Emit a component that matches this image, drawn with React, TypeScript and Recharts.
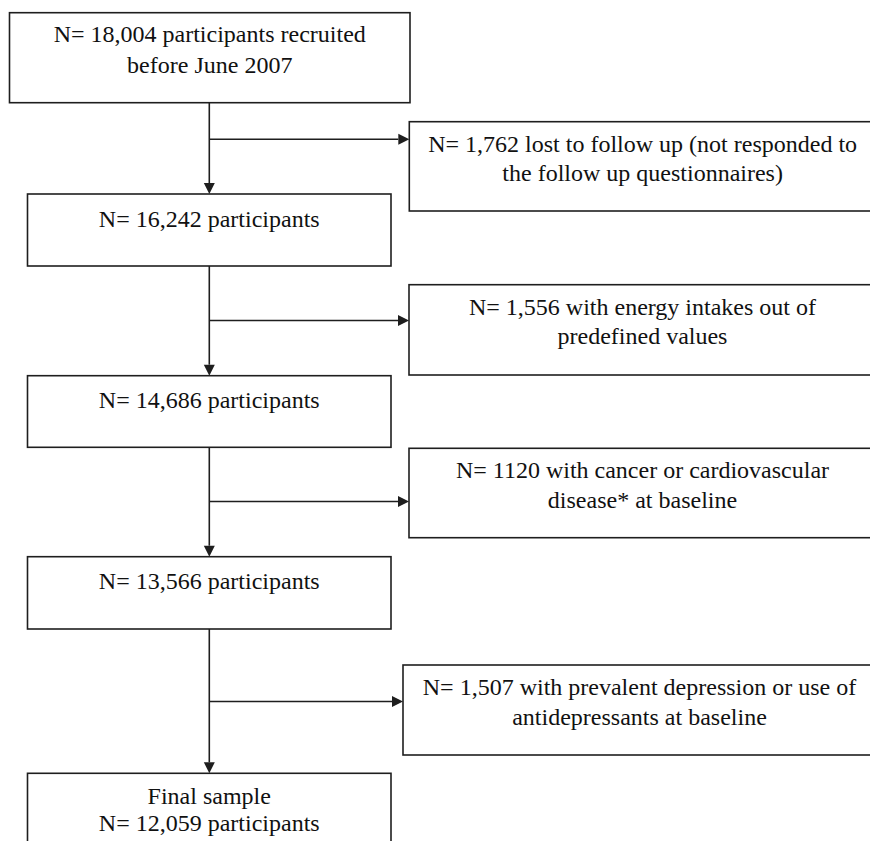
import React from 'react'
import { ComposedChart, XAxis, YAxis, ReferenceArea, ReferenceLine } from 'recharts'

// flow counts, as printed in the figure
const stageCounts = ['18,004', '16,242', '14,686', '13,566', '12,059']
const excludedCounts = ['1,762', '1,556', '1120', '1,507']

// box texts
const stageText: string[][] = [
  [`N= ${stageCounts[0]} participants recruited`, 'before June 2007'],
  [`N= ${stageCounts[1]} participants`],
  [`N= ${stageCounts[2]} participants`],
  [`N= ${stageCounts[3]} participants`],
  ['Final sample', `N= ${stageCounts[4]} participants`],
]
const excludedText: string[][] = [
  [`N= ${excludedCounts[0]} lost to follow up (not responded to`, 'the follow up questionnaires)'],
  [`N= ${excludedCounts[1]} with energy intakes out of`, 'predefined values'],
  [`N= ${excludedCounts[2]} with cancer or cardiovascular`, 'disease* at baseline'],
  [`N= ${excludedCounts[3]} with prevalent depression or use of`, 'antidepressants at baseline'],
]

// layout, in chart units (domain 0..870 x 0..841)
const W = 870
const H = 841
const SPINE_X = 209.3
const MAIN_LEFT = [9.5, 27.5, 27.5, 27.5, 27.5]
const MAIN_RIGHT = [410, 391, 391, 391, 391]
const MAIN_TOP = [12.7, 194, 375.7, 556.7, 773.3]
const MAIN_BOTTOM = [102.7, 266, 447.3, 629, 870]
const MAIN_FIRST = [29, 32.5, 32, 32.3, 31]
const MAIN_GAP = [31, 0, 0, 0, 27]
const SIDE_LEFT = [409.3, 409, 409, 403]
const SIDE_RIGHT = 876
const SIDE_TOP = [121.7, 284.7, 448.3, 665]
const SIDE_BOTTOM = [211, 375, 537.7, 755]
const ARROW_Y = [139.3, 320.5, 501.5, 701.5]

const INK = '#1e1e1e'
const FONT = "'Liberation Serif', 'Times New Roman', Times, serif"

function boxShape(lines: string[], first: number, gap: number) {
  return (p: any) => {
    const cx = p.x + p.width / 2
    return (
      <g>
        <rect x={p.x} y={p.y} width={p.width} height={p.height} fill="#fff" stroke={INK} strokeWidth={1.6} />
        {lines.map((t, i) => (
          <text
            key={i}
            x={cx}
            y={p.y + first + i * gap}
            textAnchor="middle"
            style={{ fontFamily: FONT, fontSize: 24, fill: '#111' }}
          >
            {t}
          </text>
        ))}
      </g>
    )
  }
}

function arrowShape(p: any) {
  const { x1, y1, x2, y2 } = p
  const dx = x2 - x1
  const dy = y2 - y1
  const len = Math.hypot(dx, dy) || 1
  const ux = dx / len
  const uy = dy / len
  const hl = 11
  const hw = 5.5
  const bx = x2 - ux * hl
  const by = y2 - uy * hl
  const pts = `${x2},${y2} ${bx - uy * hw},${by + ux * hw} ${bx + uy * hw},${by - ux * hw}`
  return (
    <g>
      <line x1={x1} y1={y1} x2={bx} y2={by} stroke={INK} strokeWidth={1.6} />
      <polygon points={pts} fill={INK} />
    </g>
  )
}

export default function App() {
  return (
    <div style={{ position: 'absolute', left: 0, top: 0, background: '#fff', fontFamily: FONT }}>
      <ComposedChart width={W} height={H} margin={{ top: 0, right: 0, bottom: 0, left: 0 }}>
        <XAxis type="number" dataKey="x" domain={[0, W]} hide allowDataOverflow />
        <YAxis type="number" dataKey="y" domain={[0, H]} reversed hide allowDataOverflow />

        {/* main spine: box to box arrows */}
        {MAIN_TOP.slice(1).map((top, i) => (
          <ReferenceLine
            key={`v${i}`}
            segment={[
              { x: SPINE_X, y: MAIN_BOTTOM[i] },
              { x: SPINE_X, y: top },
            ]}
            ifOverflow="visible"
            shape={arrowShape}
          />
        ))}

        {/* exclusion arrows */}
        {ARROW_Y.map((y, i) => (
          <ReferenceLine
            key={`h${i}`}
            segment={[
              { x: SPINE_X, y },
              { x: SIDE_LEFT[i], y },
            ]}
            ifOverflow="visible"
            shape={arrowShape}
          />
        ))}

        {stageText.map((lines, i) => (
          <ReferenceArea
            key={`m${i}`}
            x1={MAIN_LEFT[i]}
            x2={MAIN_RIGHT[i]}
            y1={MAIN_TOP[i]}
            y2={MAIN_BOTTOM[i]}
            ifOverflow="visible"
            shape={boxShape(lines, MAIN_FIRST[i], MAIN_GAP[i])}
          />
        ))}

        {excludedText.map((lines, i) => (
          <ReferenceArea
            key={`s${i}`}
            x1={SIDE_LEFT[i]}
            x2={SIDE_RIGHT}
            y1={SIDE_TOP[i]}
            y2={SIDE_BOTTOM[i]}
            ifOverflow="visible"
            shape={boxShape(lines, 30, 29.6)}
          />
        ))}
      </ComposedChart>
    </div>
  )
}
